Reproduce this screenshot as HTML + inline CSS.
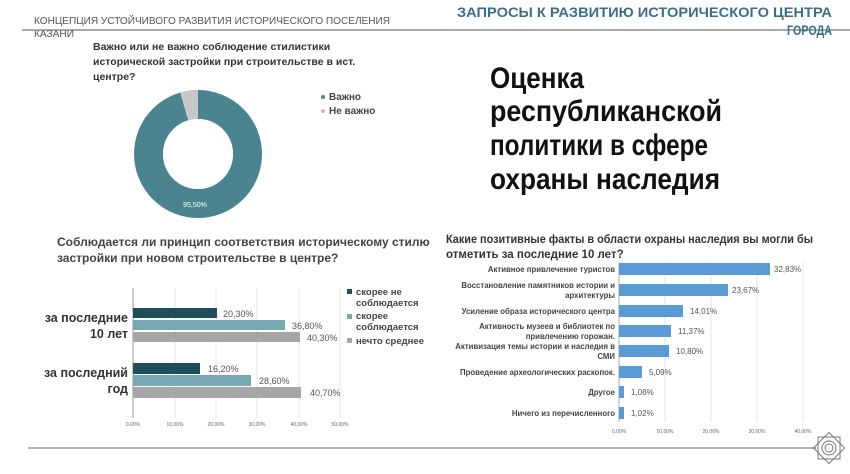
<!DOCTYPE html>
<html><head><meta charset="utf-8"><style>
body{margin:0;width:850px;height:474px;background:#fff;overflow:hidden;font-family:"Liberation Sans","DejaVu Sans",sans-serif}
svg{position:absolute;left:0;top:0}
</style></head><body>
<svg width="850" height="474" viewBox="0 0 850 474" font-family="Liberation Sans, DejaVu Sans, sans-serif">
<!-- header -->
<text x="34" y="24" font-size="10" fill="#555" textLength="356" lengthAdjust="spacingAndGlyphs">КОНЦЕПЦИЯ УСТОЙЧИВОГО РАЗВИТИЯ ИСТОРИЧЕСКОГО ПОСЕЛЕНИЯ</text>
<text x="34" y="37" font-size="10" fill="#555" textLength="40" lengthAdjust="spacingAndGlyphs">КАЗАНИ</text>
<line x1="22" y1="30" x2="850" y2="30" stroke="#777" stroke-width="1.2"/>
<text x="457" y="17" font-size="14" font-weight="bold" fill="#3d6e88" textLength="375" lengthAdjust="spacingAndGlyphs">ЗАПРОСЫ К РАЗВИТИЮ ИСТОРИЧЕСКОГО ЦЕНТРА</text>
<text x="787" y="35" font-size="14" font-weight="bold" fill="#3d6e88" textLength="45" lengthAdjust="spacingAndGlyphs">ГОРОДА</text>
<!-- pie question -->
<g font-size="10.5" font-weight="bold" fill="#333">
<text x="93" y="50">Важно или не важно соблюдение стилистики</text>
<text x="93" y="65">исторической застройки при строительстве в ист.</text>
<text x="93" y="80">центре?</text>
</g>
<!-- donut -->
<circle cx="198" cy="154" r="49.5" fill="none" stroke="#4b8490" stroke-width="29"/>
<path d="M198,90 A64,64 0 0 0 180.1,92.5 L188.2,120.4 A35,35 0 0 1 198,119 Z" fill="#c8c8c8"/>
<circle cx="198" cy="154" r="35" fill="#fff"/>
<text x="195" y="207" font-size="7" fill="#fff" text-anchor="middle">95,50%</text>
<circle cx="323" cy="97" r="2" fill="#4b8490"/><text x="329" y="100" font-size="10" font-weight="bold" fill="#444">Важно</text>
<circle cx="323" cy="111" r="2" fill="#bbb"/><text x="329" y="114" font-size="10" font-weight="bold" fill="#444">Не важно</text>
<!-- big title -->
<g font-size="30" font-weight="bold" fill="#111">
<text x="490" y="88" textLength="94" lengthAdjust="spacingAndGlyphs">Оценка</text>
<text x="490" y="121" textLength="232" lengthAdjust="spacingAndGlyphs">республиканской</text>
<text x="490" y="155" textLength="218" lengthAdjust="spacingAndGlyphs">политики в сфере</text>
<text x="490" y="189" textLength="230" lengthAdjust="spacingAndGlyphs">охраны наследия</text>
</g>
<!-- left bar chart -->
<g font-size="12" font-weight="bold" fill="#444">
<text x="57" y="246">Соблюдается ли принцип соответствия историческому стилю</text>
<text x="57" y="262">застройки при новом строительстве в центре?</text>
</g>
<g stroke="#e6e6e6" stroke-width="1">
<line x1="175" y1="288" x2="175" y2="418"/><line x1="216" y1="288" x2="216" y2="418"/><line x1="257" y1="288" x2="257" y2="418"/><line x1="299" y1="288" x2="299" y2="418"/><line x1="340" y1="288" x2="340" y2="418"/>
</g>
<line x1="133" y1="288" x2="133" y2="418" stroke="#999"/>
<rect x="133" y="308" width="84" height="10" fill="#1f4e5a"/>
<rect x="133" y="320" width="152" height="10" fill="#79a8b5"/>
<rect x="133" y="332" width="167" height="10" fill="#a6a6a6"/>
<rect x="133" y="363" width="67" height="11" fill="#1f4e5a"/>
<rect x="133" y="375" width="118" height="11" fill="#79a8b5"/>
<rect x="133" y="387" width="168" height="11" fill="#a6a6a6"/>
<g font-size="9" fill="#555">
<text x="223" y="317">20,30%</text><text x="292" y="329">36,80%</text><text x="307" y="341">40,30%</text>
<text x="208" y="372">16,20%</text><text x="259" y="384">28,60%</text><text x="310" y="396">40,70%</text>
</g>
<g font-size="12.5" font-weight="bold" fill="#333" text-anchor="end">
<text x="128" y="322">за последние</text><text x="128" y="338">10 лет</text>
<text x="128" y="377">за последний</text><text x="128" y="393">год</text>
</g>
<g font-size="5" fill="#666" text-anchor="middle">
<text x="133" y="426">0,00%</text><text x="175" y="426">10,00%</text><text x="216" y="426">20,00%</text><text x="257" y="426">30,00%</text><text x="299" y="426">40,00%</text><text x="340" y="426">50,00%</text>
</g>
<g font-size="9.5" font-weight="bold" fill="#444">
<rect x="347" y="289" width="5" height="5" fill="#1f4e5a"/><text x="356" y="295">скорее не</text><text x="356" y="306">соблюдается</text>
<rect x="347" y="314" width="5" height="5" fill="#79a8b5"/><text x="356" y="319">скорее</text><text x="356" y="330">соблюдается</text>
<rect x="347" y="338" width="5" height="5" fill="#a6a6a6"/><text x="356" y="344">нечто среднее</text>
</g>
<!-- right bar chart -->
<g font-size="11.5" font-weight="bold" fill="#333">
<text x="446" y="243" textLength="367" lengthAdjust="spacingAndGlyphs">Какие позитивные факты в области охраны наследия вы могли бы</text>
<text x="446" y="258">отметить за последние 10 лет?</text>
</g>
<g stroke="#e6e6e6"><line x1="665" y1="262" x2="665" y2="422"/><line x1="711" y1="262" x2="711" y2="422"/><line x1="757" y1="262" x2="757" y2="422"/><line x1="803" y1="262" x2="803" y2="422"/></g>
<line x1="619" y1="262" x2="619" y2="422" stroke="#aaa"/>
<g fill="#5b9bd5">
<rect x="619" y="263" width="151" height="12"/>
<rect x="619" y="284" width="109" height="12"/>
<rect x="619" y="305" width="64" height="12"/>
<rect x="619" y="325" width="52" height="12"/>
<rect x="619" y="345" width="50" height="12"/>
<rect x="619" y="366" width="23" height="12"/>
<rect x="619" y="386" width="5" height="12"/>
<rect x="619" y="407" width="5" height="12"/>
</g>
<g font-size="8" fill="#555">
<text x="774" y="272">32,83%</text><text x="732" y="293">23,67%</text><text x="690" y="314">14,01%</text><text x="678" y="334">11,37%</text>
<text x="676" y="354">10,80%</text><text x="649" y="375">5,09%</text><text x="631" y="395">1,08%</text><text x="631" y="416">1,02%</text>
</g>
<g font-size="7.8" font-weight="bold" fill="#444" text-anchor="end">
<text x="615" y="272">Активное привлечение туристов</text>
<text x="615" y="288">Восстановление памятников истории и</text><text x="615" y="298">архитектуры</text>
<text x="615" y="314">Усиление образа исторического центра</text>
<text x="615" y="329">Активность  музеев и библиотек по</text><text x="615" y="339">привлечению горожан.</text>
<text x="615" y="349">Активизация темы истории и  наследия в</text><text x="615" y="359">СМИ</text>
<text x="615" y="375">Проведение археологических раскопок.</text>
<text x="615" y="395">Другое</text>
<text x="615" y="416">Ничего из перечисленного</text>
</g>
<g font-size="5" fill="#666" text-anchor="middle">
<text x="619" y="433">0,00%</text><text x="665" y="433">10,00%</text><text x="711" y="433">20,00%</text><text x="757" y="433">30,00%</text><text x="803" y="433">40,00%</text>
</g>
<!-- bottom line + emblem -->
<line x1="28" y1="448" x2="816" y2="448" stroke="#888" stroke-width="1.2"/>
<g transform="translate(829,448)" fill="none" stroke="#777" stroke-width="1">
<rect x="-11" y="-11" width="22" height="22"/>
<rect x="-11" y="-11" width="22" height="22" transform="rotate(45)"/>
<circle r="7"/><circle r="4"/>
</g>
</svg>
</body></html>
